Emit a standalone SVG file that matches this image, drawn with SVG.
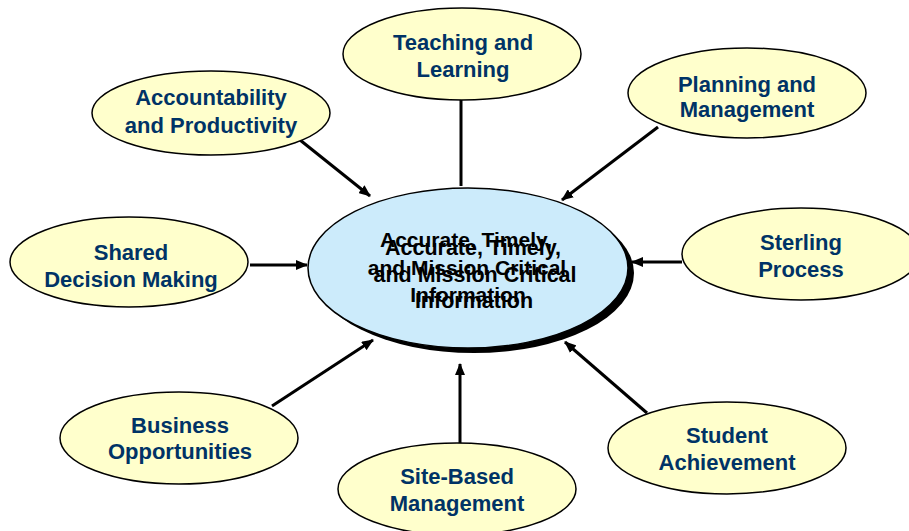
<svg xmlns="http://www.w3.org/2000/svg" width="909" height="531" viewBox="0 0 909 531">
<style>
.node ellipse{fill:#FFFFCC;stroke:#000;stroke-width:1.5}
.node text{font-family:"Liberation Sans",Arial,sans-serif;font-weight:bold;font-size:22px;fill:#003366;text-anchor:middle}
.center text{font-family:"Liberation Sans",Arial,sans-serif;font-weight:bold;fill:#000;text-anchor:middle}
.conn line{stroke:#000;stroke-width:3;marker-end:url(#ah)}
</style>
<defs>
<marker id="ah" markerWidth="12" markerHeight="10" refX="11" refY="5" orient="auto" markerUnits="userSpaceOnUse">
<path d="M0,0 L12,5 L0,10 Z" fill="#000"/>
</marker>
</defs>
<rect width="909" height="531" fill="#fff"/>
<g id="connectors" class="conn">
<line x1="300" y1="140" x2="370" y2="196"/>
<line x1="658" y1="127" x2="562" y2="200"/>
<line x1="250" y1="265" x2="307" y2="265"/>
<line x1="682" y1="262" x2="632" y2="262"/>
<line x1="272" y1="406" x2="373" y2="340"/>
<line x1="460" y1="443" x2="460" y2="364"/>
<line x1="647" y1="413" x2="565" y2="342"/>
<line x1="461" y1="100" x2="461" y2="186" style="marker-end:none"/>
</g>
<g id="center" class="center">
<ellipse cx="474" cy="273" rx="160" ry="80" fill="#000"/>
<ellipse cx="468" cy="268" rx="160" ry="80" fill="#CCEBFB" stroke="#000" stroke-width="1.5"/>
<text font-size="21"><tspan x="466" y="247">Accurate, Timely,</tspan><tspan x="467" y="275">and Mission Critical</tspan><tspan x="468" y="302">Information</tspan></text>
<text font-size="21.5"><tspan x="473" y="255">Accurate, Timely,</tspan><tspan x="475" y="282">and Mission Critical</tspan><tspan x="474" y="308">Information</tspan></text>
</g>
<g id="teaching" class="node">
<ellipse cx="462" cy="54" rx="119" ry="46"/>
<text><tspan x="463" y="50">Teaching and</tspan><tspan x="463" y="77">Learning</tspan></text>
</g>
<g id="accountability" class="node">
<ellipse cx="211" cy="113" rx="119" ry="42"/>
<text><tspan x="211" y="105">Accountability</tspan><tspan x="211" y="133">and Productivity</tspan></text>
</g>
<g id="planning" class="node">
<ellipse cx="747" cy="93" rx="119" ry="45"/>
<text><tspan x="747" y="92">Planning and</tspan><tspan x="747" y="117">Management</tspan></text>
</g>
<g id="shared" class="node">
<ellipse cx="129" cy="262" rx="119" ry="45"/>
<text><tspan x="131" y="260">Shared</tspan><tspan x="131" y="287">Decision Making</tspan></text>
</g>
<g id="sterling" class="node">
<ellipse cx="801" cy="254" rx="119" ry="46"/>
<text><tspan x="801" y="250">Sterling</tspan><tspan x="801" y="277">Process</tspan></text>
</g>
<g id="business" class="node">
<ellipse cx="179" cy="438" rx="119" ry="46"/>
<text><tspan x="180" y="433">Business</tspan><tspan x="180" y="459">Opportunities</tspan></text>
</g>
<g id="student" class="node">
<ellipse cx="727" cy="448" rx="119" ry="46"/>
<text><tspan x="727" y="443">Student</tspan><tspan x="727" y="470">Achievement</tspan></text>
</g>
<g id="sitebased" class="node">
<ellipse cx="457" cy="489" rx="119" ry="46"/>
<text><tspan x="457" y="484">Site-Based</tspan><tspan x="457" y="511">Management</tspan></text>
</g>
</svg>
